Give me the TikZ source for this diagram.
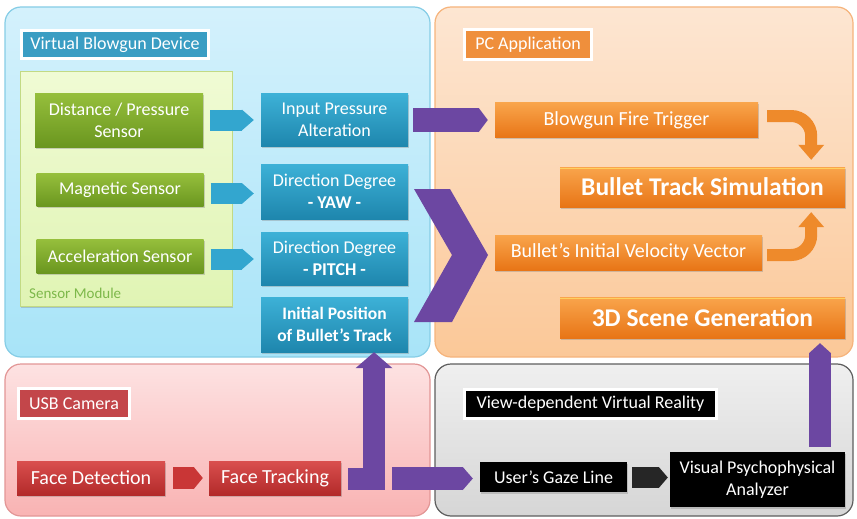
\documentclass[tikz,border=0pt]{standalone}
\usepackage{fontspec}
\setmainfont{Carlito}
\usetikzlibrary{arrows.meta,shadows,calc}
\definecolor{bpT}{HTML}{D4F1FC}
\definecolor{bpB}{HTML}{A8E4F8}
\definecolor{bpD}{HTML}{86CDE6}
\definecolor{opT}{HTML}{FDE6D2}
\definecolor{opB}{HTML}{FBC898}
\definecolor{opD}{HTML}{F6B47C}
\definecolor{ppT}{HTML}{FDE2E2}
\definecolor{ppB}{HTML}{F9B3B3}
\definecolor{ppD}{HTML}{E29696}
\definecolor{gpT}{HTML}{EFEFEF}
\definecolor{gpB}{HTML}{D6D6D6}
\definecolor{gpD}{HTML}{5E5E5E}
\definecolor{smT}{HTML}{F0FBD4}
\definecolor{smB}{HTML}{E0F4B4}
\definecolor{smD}{HTML}{C2DA84}
\definecolor{smText}{HTML}{7DB84A}
\definecolor{greenT}{HTML}{96BF3C}
\definecolor{greenB}{HTML}{6A961F}
\definecolor{blueT}{HTML}{3DB1D7}
\definecolor{blueB}{HTML}{1E86AD}
\definecolor{orangeT}{HTML}{F9A54C}
\definecolor{orangeB}{HTML}{E87516}
\definecolor{redT}{HTML}{D94F4E}
\definecolor{redB}{HTML}{B32A2A}
\definecolor{purp}{HTML}{6C47A2}
\definecolor{blueArrow}{HTML}{33A6CF}
\definecolor{orangeArrow}{HTML}{EE8A2B}
\definecolor{redArrow}{HTML}{C93636}
\definecolor{titleBlue}{HTML}{3A9DC3}
\definecolor{titleOrange}{HTML}{EF8F3C}
\definecolor{titleRed}{HTML}{C3464A}
\definecolor{hilite}{HTML}{FFD060}
\begin{document}
\begin{tikzpicture}[x=1pt,y=-1pt,
  shd/.style={drop shadow={shadow xshift=1.2pt,shadow yshift=-1.8pt,opacity=0.35}},
  panel/.style={rounded corners=16pt,line width=1.2pt},
  box/.style={inner sep=0pt,align=center,text=white,shd},
  gbox/.style={box,top color=greenT,bottom color=greenB,font=\fontsize{18}{22}\selectfont},
  bbox/.style={box,top color=blueT,bottom color=blueB,font=\fontsize{18}{22}\selectfont},
  obox/.style={box,top color=orangeT,bottom color=orangeB,font=\fontsize{20}{24}\selectfont},
  obig/.style={box,top color=orangeT,bottom color=orangeB,font=\bfseries\fontsize{25.5}{30}\selectfont},
  rbox/.style={box,top color=redT,bottom color=redB,font=\fontsize{20}{24}\selectfont},
  kbox/.style={box,fill=black,font=\fontsize{18}{22}\selectfont},
  tbox/.style={box,draw=white,line width=2.5pt,font=\fontsize{18}{22}\selectfont},
  homearrow/.style n args={3}{draw=#3,line width=#1,-{Triangle[width=#1,length=#2,line width=0pt]}},
  oarrow/.style={draw=orangeArrow,line width=12pt,rounded corners=20pt,-{Triangle[width=26pt,length=15pt,line width=0pt]}},
]
\useasboundingbox (0,0) rectangle (857,519);
\fill[white] (0,0) rectangle (857,519);

% panels
\draw[panel,draw=bpD,top color=bpT,bottom color=bpB] (5,7) rectangle (430,357);
\draw[panel,draw=opD,top color=opT,bottom color=opB] (435,7) rectangle (853,357);
\draw[panel,draw=ppD,top color=ppT,bottom color=ppB] (5,364) rectangle (430,516);
\draw[panel,draw=gpD,top color=gpT,bottom color=gpB] (435,364) rectangle (853,516);

% titles
\node[tbox,fill=titleBlue,minimum width=187,minimum height=28] (tvbd) at (115,44.5) {Virtual Blowgun Device};
\node[tbox,fill=titleOrange,minimum width=127,minimum height=30] (tpc) at (528,44.5) {PC Application};
\node[tbox,fill=titleRed,minimum width=111,minimum height=30] (tusb) at (74,403.5) {USB Camera};
\node[tbox,fill=black,minimum width=252,minimum height=29] (tvr) at (590.5,404) {View-dependent Virtual Reality};

% sensor module
\node[draw=smD,line width=1pt,top color=smT,bottom color=smB,minimum width=212,minimum height=234,inner sep=0pt,shd] (sm) at (126,189) {};
\node[anchor=base west,inner sep=0pt,text=smText,font=\fontsize{15}{17}\selectfont] (smlabel) at (29,298) {Sensor Module};

% green nodes
\node[gbox,minimum width=168,minimum height=54] (dp) at (119,120) {Distance / Pressure\\Sensor};
\node[gbox,minimum width=167,minimum height=33] (mag) at (120,190) {Magnetic Sensor};
\node[gbox,minimum width=167,minimum height=34] (acc) at (120,256) {Acceleration Sensor};

% blue nodes
\node[bbox,minimum width=147,minimum height=53] (ipa) at (334.5,120) {Input Pressure\\Alteration};
\node[bbox,minimum width=147,minimum height=55] (yaw) at (334.5,191.5) {Direction Degree\\\textbf{- YAW -}};
\node[bbox,minimum width=147,minimum height=53] (pitch) at (334.5,258.5) {Direction Degree\\\textbf{- PITCH -}};
\node[bbox,font=\bfseries\fontsize{17.5}{22}\selectfont,minimum width=147,minimum height=55] (ipos) at (334.5,324.5) {Initial Position\\of Bullet’s Track};

% orange nodes
\node[obox,minimum width=263,minimum height=35] (bft) at (626.5,120) {Blowgun Fire Trigger};
\node[obig,minimum width=285,minimum height=40] (bts) at (702.5,187) {Bullet Track Simulation};
\node[obox,minimum width=267,minimum height=35] (bivv) at (628.5,252.5) {Bullet’s Initial Velocity Vector};
\node[obig,minimum width=285,minimum height=41] (sg) at (702.5,317.5) {3D Scene Generation};
\draw[hilite,line width=1.5pt] ($(bts.north west)+(0,1.5)$) -- ($(bts.north east)+(0,1.5)$);
\draw[hilite,line width=1.5pt] ($(sg.north west)+(0,1.5)$) -- ($(sg.north east)+(0,1.5)$);

% red nodes
\node[rbox,minimum width=148,minimum height=34] (fd) at (91,478) {Face Detection};
\node[rbox,minimum width=132,minimum height=34] (ft) at (275,478) {Face Tracking};

% black nodes
\node[kbox,minimum width=147,minimum height=30] (ugl) at (553.5,477) {User’s Gaze Line};
\node[kbox,minimum width=175,minimum height=55] (vpa) at (757.5,479.5) {Visual Psychophysical\\Analyzer};

% blue arrows
\draw[homearrow={21pt}{12pt}{blueArrow}] ($(dp.east)+(7,0)$) -- ($(ipa.west)+(-7,0)$);
\coordinate (m1) at ($(mag.east)+(7,3.5)$);
\coordinate (m2) at ($(yaw.west)+(-7,0)$);
\draw[homearrow={21pt}{12pt}{blueArrow}] (m1) -- (m1 -| m2);
\coordinate (a1) at ($(acc.east)+(7,3)$);
\coordinate (a2) at ($(pitch.west)+(-7,0)$);
\draw[homearrow={21pt}{12pt}{blueArrow}] (a1) -- (a1 -| a2);

% purple arrows
\draw[homearrow={24pt}{9pt}{purp}] ($(ipa.east)+(5,0)$) -- ($(bft.west)+(-7,0)$);
\fill[purp] (414,189) -- (450,189) -- (488,255) -- (452,322) -- (414,322) -- (452,255) -- cycle;
\draw[draw=purp,line width=22pt,line join=miter,-{Triangle[width=37pt,length=16pt,line width=0pt]}]
  ($(ft.east)+(7,0.5)$) -| ($(ipos.south)+(39.5,0)$);
\coordinate (f1) at ($(ft.east)+(51,0.5)$);
\coordinate (f2) at ($(ugl.west)+(-7,0)$);
\draw[homearrow={23pt}{10pt}{purp}] (f1) -- (f1 -| f2);
\draw[homearrow={22pt}{10pt}{purp}] ($(vpa.north)+(62.5,-5)$) -- ($(sg.south)+(117.5,5)$);

% orange curved arrows
\draw[oarrow] ($(bft.east)+(9,-4)$) -| ($(bts.north east)+(-34,-7)$);
\draw[oarrow] ($(bivv.east)+(5,2.5)$) -| ($(bts.south east)+(-34,5)$);

% red and black arrows
\draw[homearrow={22pt}{9pt}{redArrow}] ($(fd.east)+(8,0)$) -- ($(ft.west)+(-6,0)$);
\coordinate (u1) at ($(ugl.east)+(5,0.5)$);
\coordinate (u2) at ($(vpa.west)+(-2,0)$);
\draw[homearrow={21pt}{9pt}{black!85}] (u1) -- (u1 -| u2);
\end{tikzpicture}
\end{document}
